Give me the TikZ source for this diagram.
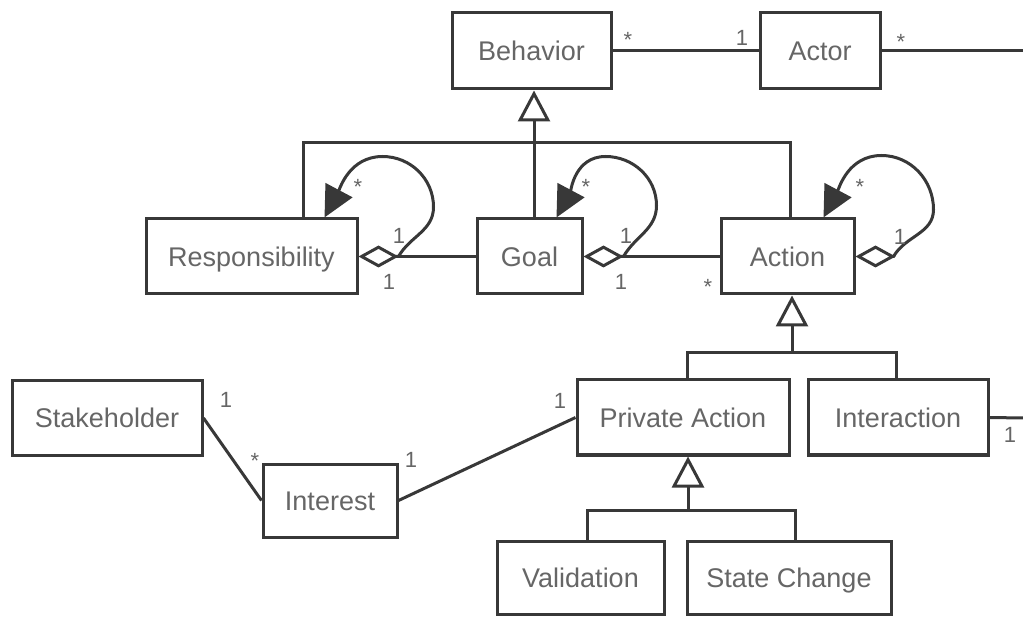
\documentclass[tikz,border=0pt]{standalone}
\usepackage{fontspec}
\setmainfont{Liberation Sans}
\usetikzlibrary{arrows.meta}
\begin{document}
\begin{tikzpicture}[x=1pt,y=1pt,
  cls/.style={draw=black!78, line width=3pt, fill=white, minimum height=75pt, inner sep=0pt, text=black!60, text height=19.3pt, text depth=0pt, font=\fontsize{27}{32}\selectfont},
  conn/.style={draw=black!78, line width=3pt},
  gen/.style={conn, -{Triangle[open,length=31pt,width=32pt]}},
  selfloop/.style={conn, {Diamond[open,length=40pt,width=22pt]}-{Triangle[length=31pt,width=30pt]}},
  mult/.style={inner sep=0pt, text=black!60, font=\fontsize{22}{26}\selectfont}]

\useasboundingbox (0,0) rectangle (1023,-617);

% classes
\node[cls, minimum width=159pt, minimum height=76pt] (beh) at (531.5,-51) {Behavior};
\node[cls, minimum width=120pt, minimum height=76pt] (act) at (820,-51) {Actor};
\node[cls, minimum width=211pt] (resp) at (251.5,-256.5) {Responsibility};
\node[cls, minimum width=105pt] (goal) at (529.5,-256.5) {Goal};
\node[cls, minimum width=133pt] (action) at (787.5,-256.5) {Action};
\node[cls, minimum width=190pt] (stake) at (107,-418) {Stakeholder};
\node[cls, minimum width=134pt, minimum height=73pt] (interest) at (330,-500.5) {Interest};
\node[cls, minimum width=212pt] (priv) at (683,-417.5) {Private Action};
\node[cls, minimum width=180pt] (inter) at (898,-417.5) {Interaction};
\node[cls, minimum width=167pt, minimum height=73pt] (valid) at (580.5,-578) {Validation};
\node[cls, minimum width=204pt, minimum height=73pt] (state) at (789,-578) {State Change};

% junction coordinates
\coordinate (j1) at (534,-143);
\coordinate (j1l) at (303,-143);
\coordinate (j1r) at (790,-143);
\coordinate (j2) at (792,-353);
\coordinate (j2l) at (687,-353);
\coordinate (j2r) at (896,-353);
\coordinate (j3) at (688,-510);
\coordinate (j3l) at (587,-510);
\coordinate (j3r) at (795,-510);
\coordinate (actorend) at (1023,-51);
\coordinate (interend) at (1023,-418);

% generalizations
\draw[gen] (j1) -- (j1 |- beh.south);
\draw[conn] (j1l |- resp.north) -- (j1l) -- (j1r) -- (j1r |- action.north);
\draw[conn] (j1) -- (j1 |- goal.north);

\draw[gen] (j2) -- (j2 |- action.south);
\draw[conn] (j2l |- priv.north) -- (j2l) -- (j2r) -- (j2r |- inter.north);

\draw[gen] (j3) -- (j3 |- priv.south);
\draw[conn] (j3l |- valid.north) -- (j3l) -- (j3r) -- (j3r |- state.north);

% associations
\draw[conn] (beh) -- (act);
\draw[conn] (act.east) -- (actorend);
\draw[conn] (inter.east) -- (interend);
\draw[conn] (stake.east) -- (interest.west);
\draw[conn] (interest.east) -- (priv.west);
\draw[conn] (goal.west) -- ([xshift=40pt]resp.east);
\draw[conn] (action.west) -- ([xshift=40pt]goal.east);

% self loops with aggregation diamonds
\draw[selfloop] (resp.east) -- ++(40,0)
  to[out=60,in=-90] ([xshift=75pt,yshift=49.5pt]resp.east)
  to[out=90,in=0] ([xshift=24pt,yshift=61pt]resp.north east)
  to[out=180,in=62] ([xshift=-34pt]resp.north east);
\draw[selfloop] (goal.east) -- ++(40,0)
  to[out=60,in=-90] ([xshift=73pt,yshift=51pt]goal.east)
  to[out=90,in=0] ([xshift=22pt,yshift=61pt]goal.north east)
  to[out=180,in=62] ([xshift=-27pt]goal.north east);
\draw[selfloop] (action.east) -- ++(38,0)
  to[out=60,in=-90] ([xshift=78pt,yshift=47pt]action.east)
  to[out=90,in=0] ([xshift=26pt,yshift=62pt]action.north east)
  to[out=180,in=62] ([xshift=-32pt]action.north east);

% multiplicities
\node[mult] (m1) at (628,-40) {*};
\node[mult] (m2) at (742,-38) {1};
\node[mult] (m3) at (901,-42) {*};
\node[mult] (m4) at (358,-187) {*};
\node[mult] (m5) at (399,-236) {1};
\node[mult] (m6) at (389,-282) {1};
\node[mult] (m7) at (586,-187) {*};
\node[mult] (m8) at (626,-236) {1};
\node[mult] (m9) at (621,-282) {1};
\node[mult] (m10) at (860,-187) {*};
\node[mult] (m11) at (900,-237) {1};
\node[mult] (m12) at (708,-287) {*};
\node[mult] (m13) at (226,-400) {1};
\node[mult] (m14) at (255,-461) {*};
\node[mult] (m15) at (411,-460) {1};
\node[mult] (m16) at (560,-401) {1};
\node[mult] (m17) at (1010,-435) {1};
\end{tikzpicture}
\end{document}
